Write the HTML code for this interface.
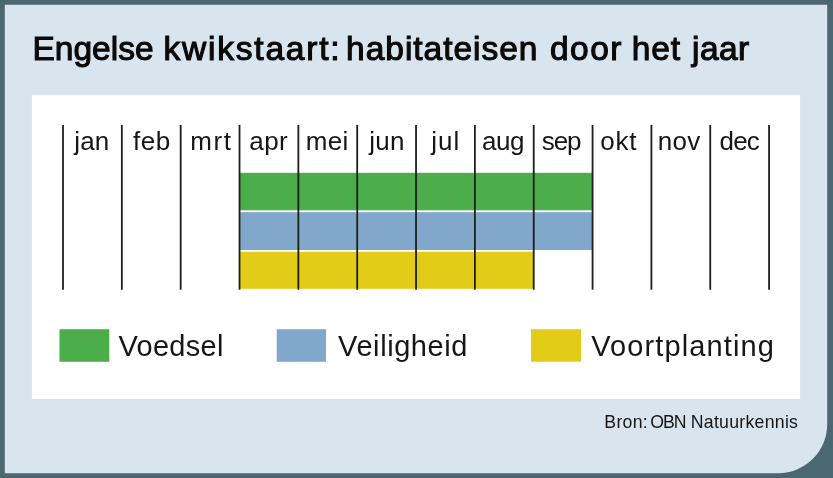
<!DOCTYPE html>
<html lang="nl">
<head>
<meta charset="utf-8">
<title>Engelse kwikstaart: habitateisen door het jaar</title>
<style>
  html, body { margin: 0; padding: 0; }
  body {
    width: 833px; height: 478px; overflow: hidden;
    background: #4b6770;
    font-family: "Liberation Sans", sans-serif;
    color: #161616;
    position: relative;
  }
  .t { position: absolute; white-space: nowrap; line-height: 1; }
  .title { top: 32.3px; font-size: 33.5px; font-weight: normal; color: #0a0a0a; -webkit-text-stroke: 1.1px #0a0a0a; }
  .txt { position: absolute; left: 0; top: 0; width: 833px; height: 478px; will-change: transform; }
  .bg { position: absolute; left: 0; top: 0; display: block; }
  .m { font-size: 26px; top: 127.5px; }
  .lg { font-size: 29px; top: 332.2px; }
  .source { font-size: 17.7px; top: 413.7px; }
</style>
</head>
<body>
<svg class="bg" width="833" height="478" viewBox="0 0 833 478">
  <rect x="0" y="0" width="833" height="478" fill="#4b6770"/>
  <path d="M4.8 4.8 H827.2 V424.2 A49 49 0 0 1 778.2 473.2 H4.8 Z" fill="#d9e5ee"/>
  <rect x="31.9" y="94.9" width="768.2" height="304" fill="#ffffff"/>
  <rect x="239.52" y="172.8" width="353.04" height="37.5" fill="#4cae4a"/>
  <rect x="239.52" y="212.2" width="353.04" height="37.8" fill="#81a8ca"/>
  <rect x="239.52" y="251.8" width="294.20" height="37" fill="#e3cc17"/>
  <g stroke="#1d1d1b" stroke-width="1.8" fill="none">
  <line x1="63.00" y1="124.9" x2="63.00" y2="289.7"/>
  <line x1="121.84" y1="124.9" x2="121.84" y2="289.7"/>
  <line x1="180.68" y1="124.9" x2="180.68" y2="289.7"/>
  <line x1="239.52" y1="124.9" x2="239.52" y2="289.7"/>
  <line x1="298.36" y1="124.9" x2="298.36" y2="289.7"/>
  <line x1="357.20" y1="124.9" x2="357.20" y2="289.7"/>
  <line x1="416.04" y1="124.9" x2="416.04" y2="289.7"/>
  <line x1="474.88" y1="124.9" x2="474.88" y2="289.7"/>
  <line x1="533.72" y1="124.9" x2="533.72" y2="289.7"/>
  <line x1="592.56" y1="124.9" x2="592.56" y2="289.7"/>
  <line x1="651.40" y1="124.9" x2="651.40" y2="289.7"/>
  <line x1="710.24" y1="124.9" x2="710.24" y2="289.7"/>
  <line x1="769.08" y1="124.9" x2="769.08" y2="289.7"/>
  </g>
  <rect x="59.5" y="329.2" width="49.8" height="32.55" fill="#4cae4a"/>
  <rect x="276.7" y="329.2" width="49.3" height="32.55" fill="#81a8ca"/>
  <rect x="531.0" y="329.2" width="50" height="32.55" fill="#e3cc17"/>
</svg>

<div class="txt">
<div class="t title" id="t1" style="left:32.44px;letter-spacing:0.014px">Engelse</div>
<div class="t title" id="t2" style="left:163.58px;letter-spacing:1.774px">kwikstaart:</div>
<div class="t title" id="t3" style="left:346.08px;letter-spacing:0.971px">habitateisen</div>
<div class="t title" id="t4" style="left:550.03px;letter-spacing:1.431px">door</div>
<div class="t title" id="t5" style="left:631.65px;letter-spacing:0.898px">het</div>
<div class="t title" id="t6" style="left:692.03px;letter-spacing:0.420px">jaar</div>

<!-- month labels -->
<div class="t m" id="m1" style="left:74.22px;letter-spacing:0.142px">jan</div>
<div class="t m" id="m2" style="left:133.05px;letter-spacing:0.506px">feb</div>
<div class="t m" id="m3" style="left:190.19px;letter-spacing:1.645px">mrt</div>
<div class="t m" id="m4" style="left:249.36px;letter-spacing:0.382px">apr</div>
<div class="t m" id="m5" style="left:305.76px;letter-spacing:0.292px">mei</div>
<div class="t m" id="m6" style="left:369.28px;letter-spacing:0.251px">jun</div>
<div class="t m" id="m7" style="left:431.25px;letter-spacing:0.981px">jul</div>
<div class="t m" id="m8" style="left:481.94px;letter-spacing:-0.389px">aug</div>
<div class="t m" id="m9" style="left:541.68px;letter-spacing:-1.006px">sep</div>
<div class="t m" id="m10" style="left:600.14px;letter-spacing:0.882px">okt</div>
<div class="t m" id="m11" style="left:657.74px;letter-spacing:0.236px">nov</div>
<div class="t m" id="m12" style="left:719.47px;letter-spacing:-0.779px">dec</div>

<!-- legend -->
<div class="t lg" id="l1" style="left:118.42px;letter-spacing:0.313px">Voedsel</div>
<div class="t lg" id="l2" style="left:338.11px;letter-spacing:0.571px">Veiligheid</div>
<div class="t lg" id="l3" style="left:591.18px;letter-spacing:1.124px">Voortplanting</div>

<div class="t source" id="s1" style="left:604.31px;letter-spacing:0.297px">Bron:</div>
<div class="t source" id="s2" style="left:650.20px;letter-spacing:-0.961px">OBN</div>
<div class="t source" id="s3" style="left:690.77px;letter-spacing:0.269px">Natuurkennis</div>
</div>
</body>
</html>
